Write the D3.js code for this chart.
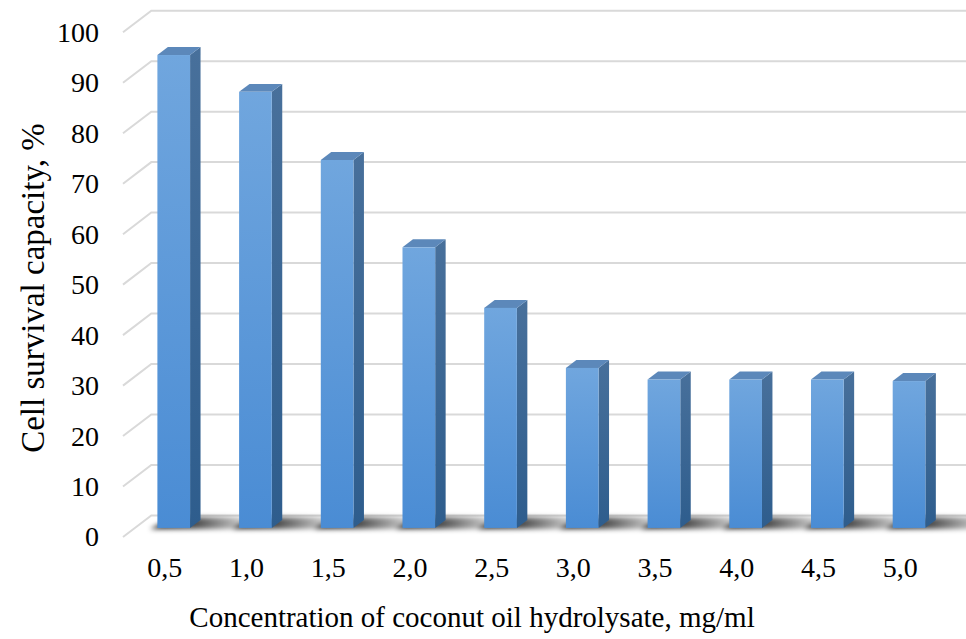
<!DOCTYPE html>
<html>
<head>
<meta charset="utf-8">
<script src="https://cdn.jsdelivr.net/npm/d3@7"></script>
<style>
  html, body { margin: 0; padding: 0; background: #fff; }
  svg { display: block; }
  text { font-family: "Liberation Serif", "Times New Roman", serif; fill: #000; }
</style>
</head>
<body>
<svg id="chart" width="966" height="639"></svg>
<script>
const categories = ["0,5", "1,0", "1,5", "2,0", "2,5", "3,0", "3,5", "4,0", "4,5", "5,0"];
const values = [93.7, 86.4, 72.9, 55.6, 43.6, 31.7, 29.4, 29.4, 29.4, 29.1];
const yTicks = [0, 10, 20, 30, 40, 50, 60, 70, 80, 90, 100];
const yTitle = "Cell survival capacity, %";
const xTitle = "Concentration of coconut oil hydrolysate, mg/ml";

const W = 966, H = 639;
const svg = d3.select("#chart");

// 3D projection parameters
const depthDx = 28.3, depthDy = -21.6;
const f1 = 0.42, f2 = 0.79; // bar front/back depth fractions

const x = d3.scaleBand().domain(categories).range([121, 938]).paddingInner(0.6).paddingOuter(0.3);
const y = d3.scaleLinear().domain([0, 100]).range([537, 32.3]);

const defs = svg.append("defs");
const gFront = defs.append("linearGradient").attr("id", "gFront").attr("x1", 0).attr("y1", 0).attr("x2", 0).attr("y2", 1);
gFront.append("stop").attr("offset", "0%").attr("stop-color", "#70a6de");
gFront.append("stop").attr("offset", "100%").attr("stop-color", "#4a8cd4");
const gSide = defs.append("linearGradient").attr("id", "gSide").attr("x1", 0).attr("y1", 0).attr("x2", 0).attr("y2", 1);
gSide.append("stop").attr("offset", "0%").attr("stop-color", "#48709b");
gSide.append("stop").attr("offset", "100%").attr("stop-color", "#2e5d8d");
const gShadow = defs.append("linearGradient").attr("id", "gShadow").attr("x1", 0).attr("y1", 0).attr("x2", 1).attr("y2", 0);
gShadow.append("stop").attr("offset", "0%").attr("stop-color", "#000").attr("stop-opacity", 0.9);
gShadow.append("stop").attr("offset", "40%").attr("stop-color", "#000").attr("stop-opacity", 0.7);
gShadow.append("stop").attr("offset", "100%").attr("stop-color", "#000").attr("stop-opacity", 0);
defs.append("filter").attr("id", "blur").attr("x", "-20%").attr("y", "-50%").attr("width", "140%").attr("height", "200%")
  .append("feGaussianBlur").attr("stdDeviation", 2.5);

function P(px, v, f) { return [px + f * depthDx, y(v) + f * depthDy]; }
const line = d3.line();

// Gridlines: side diagonal + back wall
const grid = svg.append("g").attr("stroke", "#d9d9d9").attr("stroke-width", 2).attr("fill", "none");
yTicks.forEach(t => {
  const a = P(123, t, 0), b = P(123, t, 1);
  grid.append("path").attr("d", line([a, b, [W + 5, b[1]]]));
});

// Floor shadows
const shadows = svg.append("g").attr("filter", "url(#blur)");
categories.forEach((c, i) => {
  const x0 = x(c) - 6, x1 = x(c) + x.bandwidth() + 58;
  const pts = [P(x0, 0, f1 - 0.05), P(x1 - 10, 0, f1 - 0.05), P(x1, 0, f2 + 0.12), P(x0 + 8, 0, f2 + 0.12)];
  shadows.append("path").attr("d", line(pts) + "Z").attr("fill", "url(#gShadow)");
});

// Bars
const bars = svg.append("g");
categories.forEach((c, i) => {
  const v = values[i];
  const xl = x(c), xr = x(c) + x.bandwidth();
  const g = bars.append("g");
  g.append("path").attr("d", line([P(xr, 0, f1), P(xr, v, f1), P(xr, v, f2), P(xr, 0, f2)]) + "Z")
    .attr("fill", "url(#gSide)");
  g.append("path").attr("d", line([P(xl, v, f1), P(xr, v, f1), P(xr, v, f2), P(xl, v, f2)]) + "Z")
    .attr("fill", "#5c88ba");
  const a = P(xl, v, f1), b = P(xr, 0, f1);
  g.append("rect").attr("x", a[0]).attr("y", a[1]).attr("width", b[0] - a[0]).attr("height", b[1] - a[1])
    .attr("fill", "url(#gFront)");
});

// Y axis labels
const yAxis = d3.axisLeft(y).tickValues(yTicks).tickSize(0).tickPadding(24).tickFormat(d3.format("d"));
const gy = svg.append("g").attr("transform", "translate(123,0)").call(yAxis);
gy.select(".domain").remove();
gy.selectAll("text").attr("font-size", 28).attr("font-family", "Liberation Serif").attr("fill", "#000");

// X axis labels
const xAxis = d3.axisBottom(x).tickSize(0).tickPadding(20);
const gx = svg.append("g").attr("transform", "translate(3,537)").call(xAxis);
gx.select(".domain").remove();
gx.selectAll("text").attr("font-size", 28).attr("font-family", "Liberation Serif").attr("fill", "#000");

// Titles
svg.append("text").attr("transform", "translate(44,288) rotate(-90)").attr("text-anchor", "middle")
  .attr("font-size", 33).text(yTitle);
svg.append("text").attr("x", 472).attr("y", 627).attr("text-anchor", "middle")
  .attr("font-size", 29).text(xTitle);
</script>
</body>
</html>
